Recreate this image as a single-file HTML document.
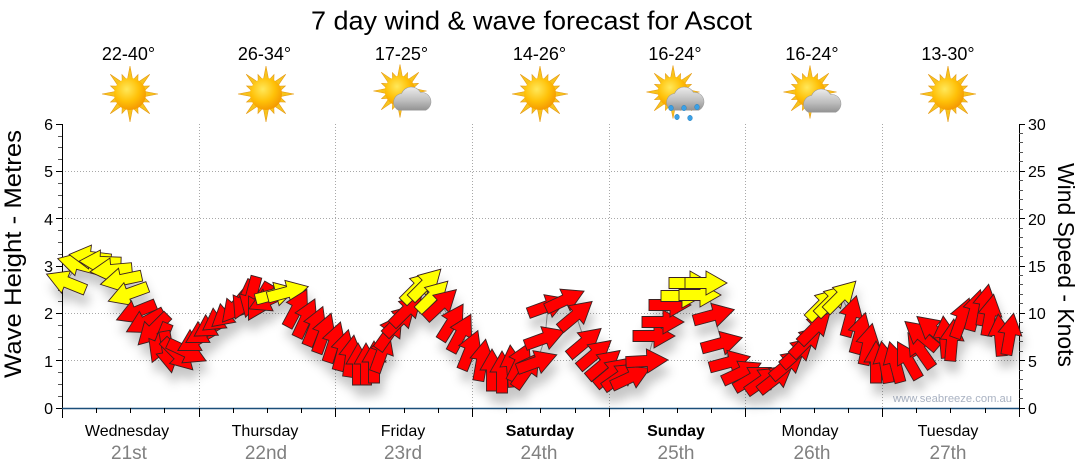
<!DOCTYPE html>
<html><head><meta charset="utf-8"><style>
html,body{margin:0;padding:0;background:#fff;}
svg{display:block;font-family:"Liberation Sans",sans-serif;}
</style></head><body>
<svg width="1080" height="475" viewBox="0 0 1080 475" xmlns="http://www.w3.org/2000/svg">
<defs>
<radialGradient id="sd" cx="0.4" cy="0.35" r="0.7">
<stop offset="0" stop-color="#ffe85a"/><stop offset="0.55" stop-color="#ffc108"/><stop offset="1" stop-color="#f39400"/>
</radialGradient>
<linearGradient id="cg" x1="0" y1="0" x2="0" y2="1">
<stop offset="0" stop-color="#ececec"/><stop offset="0.6" stop-color="#bcbcbc"/><stop offset="1" stop-color="#939393"/>
</linearGradient>
<g id="sun">
<polygon fill="#f8c41c" stroke="#e49a18" stroke-width="0.6" points="28,0 13.73,2.73 19.4,8.04 11.64,7.78 19.8,19.8 7.78,11.64 8.04,19.4 2.73,13.73 0,28 -2.73,13.73 -8.04,19.4 -7.78,11.64 -19.8,19.8 -11.64,7.78 -19.4,8.04 -13.73,2.73 -28,0 -13.73,-2.73 -19.4,-8.04 -11.64,-7.78 -19.8,-19.8 -7.78,-11.64 -8.04,-19.4 -2.73,-13.73 0,-28 2.73,-13.73 8.04,-19.4 7.78,-11.64 19.8,-19.8 11.64,-7.78 19.4,-8.04 13.73,-2.73"/>
<circle r="16" fill="url(#sd)"/>
</g>
<path id="cloud" d="M9,25 L35,25 A9,9 0 0 0 30,8 A10,10 0 0 0 12,9 A8.5,8.5 0 0 0 9,25 Z" fill="url(#cg)" stroke="#9a9a9a" stroke-width="0.5"/>
<path id="ar" d="M-21,-5.5 L0,-5.5 L0,-12 L21,0 L0,12 L0,5.5 L-21,5.5 Z" stroke="#3a2020" stroke-width="0.9" stroke-linejoin="miter"/>
<filter id="sh" x="-10%" y="-20%" width="120%" height="160%">
<feDropShadow dx="3" dy="11" stdDeviation="5" flood-color="#000" flood-opacity="0.22"/>
</filter>
</defs>

<!-- title -->
<text x="531.5" y="29.5" font-size="26" text-anchor="middle" textLength="441" lengthAdjust="spacingAndGlyphs" fill="#000">7 day wind &amp; wave forecast for Ascot</text>

<!-- temps -->
<g font-size="18" text-anchor="middle" fill="#000">
<text x="128.5" y="60">22-40°</text>
<text x="264.5" y="60">26-34°</text>
<text x="401.5" y="60">17-25°</text>
<text x="539.5" y="60">14-26°</text>
<text x="675" y="60">16-24°</text>
<text x="812" y="60">16-24°</text>
<text x="948" y="60">13-30°</text>
</g>

<!-- weather icons -->
<use href="#sun" transform="translate(130,94)"/>
<use href="#sun" transform="translate(266,94)"/>
<use href="#sun" transform="translate(400,91) scale(0.95)"/>
<use href="#cloud" transform="translate(389,84) scale(1.05)"/>
<use href="#sun" transform="translate(540,94)"/>
<use href="#sun" transform="translate(673,92) scale(0.95)"/>
<use href="#cloud" transform="translate(662,84) scale(1.05)"/>
<g fill="#3aa0e6" stroke="#2a78b0" stroke-width="0.4">
<ellipse cx="671" cy="108" rx="2.4" ry="2.8"/><ellipse cx="684" cy="108" rx="2.4" ry="2.8"/><ellipse cx="697" cy="107" rx="2.4" ry="2.8"/>
<ellipse cx="677" cy="117" rx="2.4" ry="2.8"/><ellipse cx="690" cy="118" rx="2.4" ry="2.8"/>
</g>
<use href="#sun" transform="translate(810,92) scale(0.95)"/>
<use href="#cloud" transform="translate(799,86) scale(1.05)"/>
<use href="#sun" transform="translate(948,94)"/>

<!-- grid -->
<g stroke="#a8a8a8" stroke-width="1" stroke-dasharray="1 2" fill="none">
<path d="M62,360.5H1019M62,313.5H1019M62,266.5H1019M62,218.5H1019M62,171.5H1019"/>
<path d="M199.5,124V408M335.5,124V408M472.5,124V408M609.5,124V408M745.5,124V408M882.5,124V408"/>
</g>

<!-- left axis -->
<path d="M62.5,124V418" stroke="#000" stroke-width="1"/>
<path stroke="#555" stroke-width="1" d="M58,396.5H62M58,384.5H62M58,372.5H62M58,349.5H62M58,337.5H62M58,325.5H62M58,301.5H62M58,290.5H62M58,278.5H62M58,254.5H62M58,242.5H62M58,230.5H62M58,207.5H62M58,195.5H62M58,183.5H62M58,159.5H62M58,147.5H62M58,136.5H62"/>
<path stroke="#000" stroke-width="1" d="M56,408.5H62M56,360.5H62M56,313.5H62M56,266.5H62M56,218.5H62M56,171.5H62M56,124.5H62"/>
<g font-size="16" text-anchor="end" fill="#000">
<text x="53" y="414">0</text><text x="53" y="367">1</text><text x="53" y="319">2</text><text x="53" y="272">3</text><text x="53" y="225">4</text><text x="53" y="177">5</text><text x="53" y="130">6</text>
</g>

<!-- right axis -->
<path d="M1019.5,124V408" stroke="#000" stroke-width="1"/>
<path stroke="#555" stroke-width="1" d="M1019,398.5h4M1019,389.5h4M1019,379.5h4M1019,370.5h4M1019,351.5h4M1019,341.5h4M1019,332.5h4M1019,322.5h4M1019,303.5h4M1019,294.5h4M1019,284.5h4M1019,275.5h4M1019,256.5h4M1019,247.5h4M1019,237.5h4M1019,228.5h4M1019,209.5h4M1019,199.5h4M1019,190.5h4M1019,180.5h4M1019,161.5h4M1019,152.5h4M1019,142.5h4M1019,133.5h4"/>
<path stroke="#000" stroke-width="1" d="M1019,408.5h6M1019,360.5h6M1019,313.5h6M1019,266.5h6M1019,218.5h6M1019,171.5h6M1019,124.5h6"/>
<g font-size="16" fill="#000">
<text x="1028" y="414">0</text><text x="1028" y="367">5</text><text x="1028" y="319">10</text><text x="1028" y="272">15</text><text x="1028" y="225">20</text><text x="1028" y="177">25</text><text x="1028" y="130">30</text>
</g>

<!-- axis titles -->
<text transform="translate(21,254) rotate(-90)" font-size="24" text-anchor="middle" textLength="248" lengthAdjust="spacingAndGlyphs" fill="#000">Wave Height - Metres</text>
<text transform="translate(1058,265) rotate(90)" font-size="23" text-anchor="middle" textLength="204" lengthAdjust="spacingAndGlyphs" fill="#000">Wind Speed - Knots</text>

<!-- watermark -->
<text x="893" y="402" font-size="11" fill="#a9b2c2" textLength="119" lengthAdjust="spacingAndGlyphs">www.seabreeze.com.au</text>

<!-- wind line -->
<polyline fill="none" stroke="#9a9a9a" stroke-width="1" points="66,282 78,264 90,257 100,262 111,270 121,280 128,294 136,312 145,322 153,330 160,343 168,352 178,355 187,352 196,340 204,332 212,325 220,318 228,313 236,306 244,300 251,297 259,302 268,300 276,294 288,292 297,308 306,318 315,326 324,333 334,342 343,350 351,356 358,364 366,364 374,362 382,352 390,332 400,320 407,310 418,287 426,284 433,296 441,304 452,322 461,333 470,350 482,360 492,370 502,372 512,366 520,362 527,370 537,362 545,338 548,306 565,300 576,315 585,342 595,354 604,364 612,372 621,376 631,377 647,361 654,336 663,322 670,305 682,296 690,283 700,295 706,283 714,315 722,343 730,362 742,372 753,378 764,380 776,378 788,364 798,352 807,341 815,328 823,304 832,300 841,296 851,316 860,333 868,344 876,362 885,362 895,362 908,360 920,350 921,335 933,330 945,337 952,340 962,318 975,310 985,305 990,315 1000,335 1010,334"/>

<!-- arrows -->
<g filter="url(#sh)">
<g fill="#ffff00">
<use href="#ar" transform="translate(66,282) rotate(202)"/>
<use href="#ar" transform="translate(78,264) rotate(195)"/>
<use href="#ar" transform="translate(90,257) rotate(187)"/>
<use href="#ar" transform="translate(100,262) rotate(182)"/>
<use href="#ar" transform="translate(111,270) rotate(175)"/>
<use href="#ar" transform="translate(121,280) rotate(168)"/>
<use href="#ar" transform="translate(128,294) rotate(160)"/>
</g>
<g fill="#ff0000">
<use href="#ar" transform="translate(136,312) rotate(158)"/>
<use href="#ar" transform="translate(145,322) rotate(152)"/>
<use href="#ar" transform="translate(153,330) rotate(135)"/>
<use href="#ar" transform="translate(160,343) rotate(112)"/>
<use href="#ar" transform="translate(168,352) rotate(80)"/>
<use href="#ar" transform="translate(178,355) rotate(45)"/>
<use href="#ar" transform="translate(187,352) rotate(25)"/>
<use href="#ar" transform="translate(196,340) rotate(150)"/>
<use href="#ar" transform="translate(204,332) rotate(150)"/>
<use href="#ar" transform="translate(212,325) rotate(148)"/>
<use href="#ar" transform="translate(220,318) rotate(145)"/>
<use href="#ar" transform="translate(228,313) rotate(140)"/>
<use href="#ar" transform="translate(236,306) rotate(130)"/>
<use href="#ar" transform="translate(244,300) rotate(115)"/>
<use href="#ar" transform="translate(251,297) rotate(105)"/>
<use href="#ar" transform="translate(259,302) rotate(120)"/>
<use href="#ar" transform="translate(268,300) rotate(155)"/>
</g>
<g fill="#ffff00">
<use href="#ar" transform="translate(276,294) rotate(-15)"/>
<use href="#ar" transform="translate(288,292) rotate(-15)"/>
</g>
<g fill="#ff0000">
<use href="#ar" transform="translate(297,308) rotate(-62)"/>
<use href="#ar" transform="translate(306,318) rotate(-65)"/>
<use href="#ar" transform="translate(315,326) rotate(-68)"/>
<use href="#ar" transform="translate(324,333) rotate(-70)"/>
<use href="#ar" transform="translate(334,342) rotate(-72)"/>
<use href="#ar" transform="translate(343,350) rotate(-75)"/>
<use href="#ar" transform="translate(351,356) rotate(-82)"/>
<use href="#ar" transform="translate(358,364) rotate(-90)"/>
<use href="#ar" transform="translate(366,364) rotate(-90)"/>
<use href="#ar" transform="translate(374,362) rotate(-90)"/>
<use href="#ar" transform="translate(382,352) rotate(-70)"/>
<use href="#ar" transform="translate(390,332) rotate(-55)"/>
<use href="#ar" transform="translate(400,320) rotate(-45)"/>
<use href="#ar" transform="translate(407,310) rotate(-45)"/>
</g>
<g fill="#ffff00">
<use href="#ar" transform="translate(418,287) rotate(-45)"/>
<use href="#ar" transform="translate(426,284) rotate(-45)"/>
<use href="#ar" transform="translate(433,296) rotate(-45)"/>
</g>
<g fill="#ff0000">
<use href="#ar" transform="translate(441,304) rotate(-43)"/>
<use href="#ar" transform="translate(452,322) rotate(-58)"/>
<use href="#ar" transform="translate(461,333) rotate(-62)"/>
<use href="#ar" transform="translate(470,350) rotate(-68)"/>
<use href="#ar" transform="translate(482,360) rotate(-80)"/>
<use href="#ar" transform="translate(492,370) rotate(-90)"/>
<use href="#ar" transform="translate(502,372) rotate(-90)"/>
<use href="#ar" transform="translate(512,366) rotate(-95)"/>
<use href="#ar" transform="translate(520,362) rotate(-65)"/>
<use href="#ar" transform="translate(527,370) rotate(-55)"/>
<use href="#ar" transform="translate(537,362) rotate(-20)"/>
<use href="#ar" transform="translate(545,338) rotate(-20)"/>
<use href="#ar" transform="translate(548,306) rotate(-20)"/>
<use href="#ar" transform="translate(565,300) rotate(-25)"/>
<use href="#ar" transform="translate(576,315) rotate(-40)"/>
<use href="#ar" transform="translate(585,342) rotate(-40)"/>
<use href="#ar" transform="translate(595,354) rotate(-40)"/>
<use href="#ar" transform="translate(604,364) rotate(-40)"/>
<use href="#ar" transform="translate(612,372) rotate(-40)"/>
<use href="#ar" transform="translate(621,376) rotate(-35)"/>
<use href="#ar" transform="translate(631,377) rotate(-25)"/>
<use href="#ar" transform="translate(647,361) rotate(-3)"/>
<use href="#ar" transform="translate(654,336) rotate(0)"/>
<use href="#ar" transform="translate(663,322) rotate(0)"/>
<use href="#ar" transform="translate(670,305) rotate(0)"/>
</g>
<g fill="#ffff00">
<use href="#ar" transform="translate(682,296) rotate(0)"/>
<use href="#ar" transform="translate(690,283) rotate(0)"/>
<use href="#ar" transform="translate(700,295) rotate(0)"/>
<use href="#ar" transform="translate(706,283) rotate(0)"/>
</g>
<g fill="#ff0000">
<use href="#ar" transform="translate(714,315) rotate(-15)"/>
<use href="#ar" transform="translate(722,343) rotate(-15)"/>
<use href="#ar" transform="translate(730,362) rotate(-15)"/>
<use href="#ar" transform="translate(742,372) rotate(-25)"/>
<use href="#ar" transform="translate(753,378) rotate(-30)"/>
<use href="#ar" transform="translate(764,380) rotate(-35)"/>
<use href="#ar" transform="translate(776,378) rotate(-38)"/>
<use href="#ar" transform="translate(788,364) rotate(-40)"/>
<use href="#ar" transform="translate(798,352) rotate(-42)"/>
<use href="#ar" transform="translate(807,341) rotate(-45)"/>
<use href="#ar" transform="translate(815,328) rotate(-45)"/>
</g>
<g fill="#ffff00">
<use href="#ar" transform="translate(823,304) rotate(-45)"/>
<use href="#ar" transform="translate(832,300) rotate(-45)"/>
<use href="#ar" transform="translate(841,296) rotate(-45)"/>
</g>
<g fill="#ff0000">
<use href="#ar" transform="translate(851,316) rotate(-75)"/>
<use href="#ar" transform="translate(860,333) rotate(-75)"/>
<use href="#ar" transform="translate(868,344) rotate(-78)"/>
<use href="#ar" transform="translate(876,362) rotate(-90)"/>
<use href="#ar" transform="translate(885,362) rotate(-100)"/>
<use href="#ar" transform="translate(895,362) rotate(-105)"/>
<use href="#ar" transform="translate(908,360) rotate(-120)"/>
<use href="#ar" transform="translate(920,350) rotate(-125)"/>
<use href="#ar" transform="translate(921,335) rotate(-140)"/>
<use href="#ar" transform="translate(933,330) rotate(-140)"/>
<use href="#ar" transform="translate(945,337) rotate(-95)"/>
<use href="#ar" transform="translate(952,340) rotate(-85)"/>
<use href="#ar" transform="translate(962,318) rotate(-70)"/>
<use href="#ar" transform="translate(975,310) rotate(-75)"/>
<use href="#ar" transform="translate(985,305) rotate(-80)"/>
<use href="#ar" transform="translate(990,315) rotate(-80)"/>
<use href="#ar" transform="translate(1000,335) rotate(-95)"/>
<use href="#ar" transform="translate(1010,334) rotate(-80)"/>
</g>
</g>

<!-- bottom axis -->
<path d="M62,408.5H1019" stroke="#1b4f7a" stroke-width="1.5"/>
<path stroke="#000" stroke-width="1" d="M96.5,408V413M130.5,408V413M164.5,408V413M233.5,408V413M267.5,408V413M301.5,408V413M369.5,408V413M404.5,408V413M438.5,408V413M506.5,408V413M540.5,408V413M575.5,408V413M643.5,408V413M677.5,408V413M711.5,408V413M780.5,408V413M814.5,408V413M848.5,408V413M916.5,408V413M950.5,408V413M985.5,408V413"/>
<path stroke="#000" stroke-width="1" d="M199.5,408V417M335.5,408V417M472.5,408V417M609.5,408V417M745.5,408V417M882.5,408V417M1019.5,408V417"/>

<!-- day labels -->
<g font-size="16" text-anchor="middle" fill="#000">
<text x="127" y="436">Wednesday</text>
<text x="265" y="436">Thursday</text>
<text x="403" y="436">Friday</text>
<text x="540" y="436" font-weight="bold">Saturday</text>
<text x="676" y="436" font-weight="bold">Sunday</text>
<text x="810" y="436">Monday</text>
<text x="948" y="436">Tuesday</text>
</g>
<g font-size="19" text-anchor="middle" fill="#808080">
<text x="129" y="459">21st</text>
<text x="266" y="459">22nd</text>
<text x="403" y="459">23rd</text>
<text x="539" y="459">24th</text>
<text x="676" y="459">25th</text>
<text x="812" y="459">26th</text>
<text x="948" y="459">27th</text>
</g>
</svg>
</body></html>
